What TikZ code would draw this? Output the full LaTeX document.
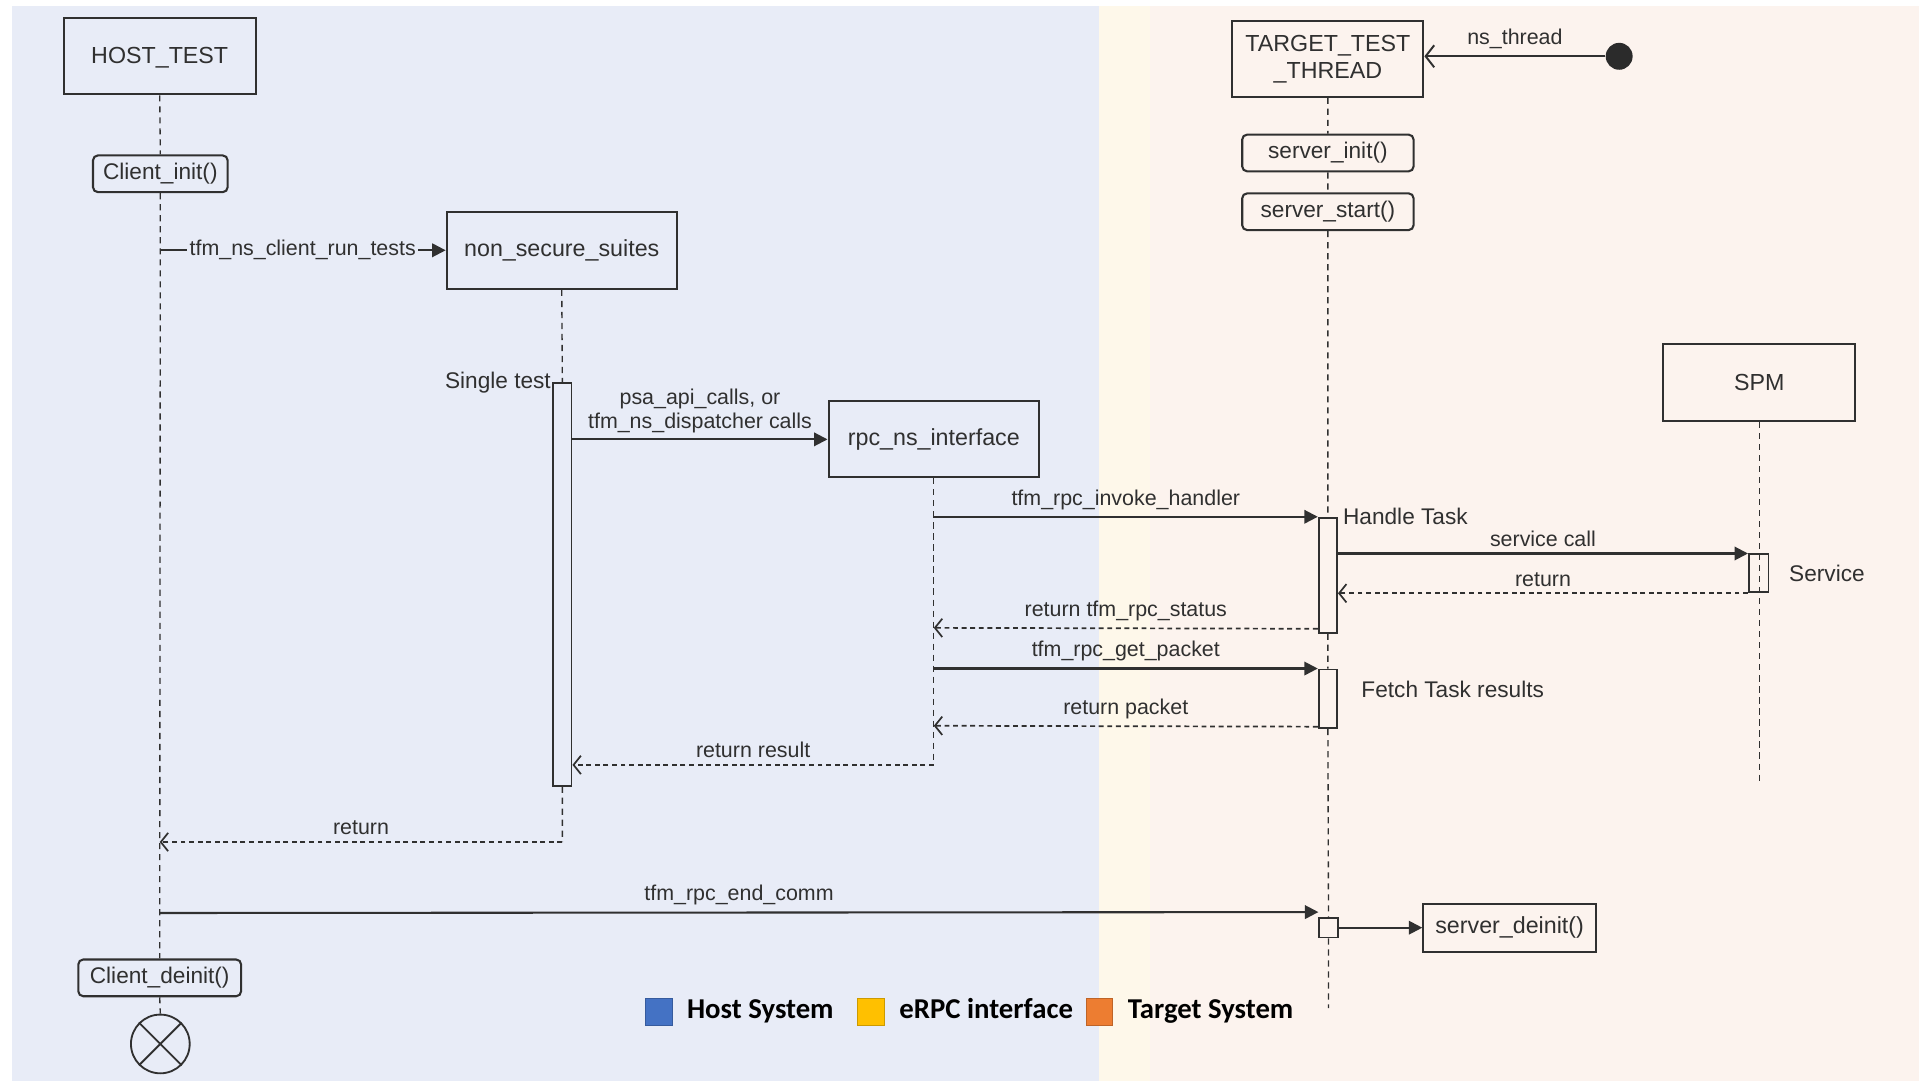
\documentclass[tikz,border=0pt]{standalone}
\usepackage{fontspec}
\setmainfont{Liberation Sans}
\newfontfamily\legendfont{Carlito}
\usetikzlibrary{arrows.meta}
\usetikzlibrary{positioning}

\definecolor{hostbg}{HTML}{E8ECF7}
\definecolor{rpcbg}{HTML}{FEF8EA}
\definecolor{tgtbg}{HTML}{FCF3EE}
\definecolor{ink}{HTML}{303030}
\definecolor{hostkey}{HTML}{4472C4}
\definecolor{rpckey}{HTML}{FFC000}
\definecolor{tgtkey}{HTML}{ED7D31}

\tikzset{
  objbox/.style={draw=ink, line width=1.7pt, text=ink, font=\fontsize{19}{22}\selectfont, inner sep=0pt},
  callbox/.style={draw=ink, line width=1.7pt, rounded corners=4pt, text=ink, font=\fontsize{18.5}{22}\selectfont, inner sep=0pt},
  actbar/.style={draw=ink, line width=1.5pt, minimum width=15pt, inner sep=0pt},
  lifeline/.style={draw=ink, line width=1.1pt, dash pattern=on 5pt off 4pt},
  msg/.style={draw=ink, line width=1.7pt, -{Triangle[length=11pt,width=11pt]}},
  retmsg/.style={draw=ink, line width=1.4pt, dash pattern=on 4pt off 3pt, -{Straight Barb[length=6pt,width=15pt]}},
  lbl/.style={text=ink, font=\fontsize{17.5}{20}\selectfont, inner sep=2pt},
  legkey/.style={draw=#1!80!black, fill=#1, minimum size=22pt, inner sep=0pt},
  keytxt/.style={font=\legendfont\bfseries\fontsize{23.5}{26}\selectfont, inner sep=0pt, text height=15pt, text depth=4pt}
}

\begin{document}
\begin{tikzpicture}[x=1pt, y=-1pt]
  \useasboundingbox (0,0) rectangle (1568,883);
  % the three systems
  \fill[hostbg] (10,5) rectangle (898,883);
  \fill[rpcbg] (898,5) rectangle (940,883);
  \fill[tgtbg] (940,5) rectangle (1568,883);

  % host side
  \node[objbox, minimum width=157, minimum height=62, text depth=1pt] (host) at (130.5,46) {HOST\_TEST};
  \node[callbox, minimum width=110, minimum height=30] (cinit) at (131,142) {Client\_init()};
  \node[callbox, minimum width=133, minimum height=30] (cdeinit) at (130.5,799) {Client\_deinit()};
  \node[circle, draw=ink, line width=1.5pt, minimum size=48, inner sep=0pt] (destroy) at (131,853) {};
  \draw[ink, line width=1.5pt] (destroy.north west) -- (destroy.south east) (destroy.north east) -- (destroy.south west);
  \node[objbox, minimum width=188, minimum height=63] (suites) at (459,204.5) {non\_secure\_suites};
  \node[actbar, minimum height=329] (single) at (459.5,477.5) {};
  \node[lbl, anchor=east, inner sep=1pt, font=\fontsize{18.5}{22}\selectfont] (singlelbl) at (single.north west) {Single test};
  \node[objbox, minimum width=172, minimum height=62] (rpcif) at (763,359) {rpc\_ns\_interface};

  % target side
  \node[objbox, align=center, minimum width=156, minimum height=62] (target) at (1085,48) {TARGET\_TEST\\\_THREAD};
  \node[circle, fill=ink!90!black, minimum size=22, inner sep=0pt] (start) at (1323,46) {};
  \node[callbox, minimum width=140, minimum height=30] (sinit) at (1085,125) {server\_init()};
  \node[callbox, minimum width=140, minimum height=30] (sstart) at (1085,173) {server\_start()};
  \node[actbar, minimum height=94] (handle) at (1085,470) {};
  \node[lbl, anchor=west, inner sep=1pt, font=\fontsize{18.5}{22}\selectfont] (handlelbl) at ([xshift=3pt]handle.north east) {Handle Task};
  \node[actbar, minimum height=48] (fetch) at (1085,571) {};
  \node[lbl, anchor=west, font=\fontsize{18.5}{22}\selectfont] (fetchlbl) at ([xshift=17pt,yshift=8pt]fetch.east) {Fetch Task results};
  \node[actbar, minimum height=16] (endbar) at (1085.5,758) {};
  \node[objbox, minimum width=141, minimum height=39] (sdeinit) at (1233.5,758) {server\_deinit()};
  \node[objbox, minimum width=157, minimum height=63] (spm) at (1437.5,312.5) {SPM};
  \node[actbar, minimum width=16, minimum height=31] (svc) at (1437,468.5) {};
  \node[lbl, anchor=west, font=\fontsize{18.5}{22}\selectfont] (svclbl) at ([xshift=14pt]svc.east) {Service};

  \coordinate (rr) at (763,625);
  \coordinate (ret) at (459.5,688);

  % lifelines
  \draw[lifeline] (host.south) -- (cinit.north) (cinit.south) -- (cdeinit.north) (cdeinit.south) -- (destroy.north);
  \draw[lifeline] (suites.south) -- (single.north) (single.south) -- (ret);
  \draw[lifeline] (rpcif.south) -- (rr);
  \draw[lifeline] (target.south) -- (sinit.north) (sinit.south) -- (sstart.north) (sstart.south) -- (handle.north)
    (handle.south) -- (fetch.north) (fetch.south) -- (endbar.north) (endbar.south) -- ++(0,57);
  \draw[lifeline] (spm.south) -- ++(0,296);

  % messages
  \draw[ink, line width=1.6pt, -{Straight Barb[length=7pt,width=18pt]}] (start) -- node[lbl, above=3pt] {ns\_thread} (target.east |- start);
  \draw[msg] (host.south |- suites.west) -- node[lbl, fill=hostbg] {tfm\_ns\_client\_run\_tests} (suites.west);
  \draw[msg] (single.east |- rpcif.west) -- node[lbl, above=2pt, align=center] {psa\_api\_calls, or\\tfm\_ns\_dispatcher calls} (rpcif.west);
  \draw[msg] (rpcif.south |- handle.north west) -- node[lbl, above=3pt] {tfm\_rpc\_invoke\_handler} (handle.north west);
  \draw[msg] ([yshift=-30pt]handle.north east) -- node[lbl, above=3pt] {service call} (svc.north west);
  \draw[retmsg] (svc.south west) -- node[lbl, above=3pt] {return} (handle.east |- svc.south west);
  \draw[retmsg] ([yshift=4pt]handle.south west) -- node[lbl, above=3pt] {return tfm\_rpc\_status} (rpcif.south |- 0,513);
  \draw[msg] (rpcif.south |- fetch.north west) -- node[lbl, above=3pt] {tfm\_rpc\_get\_packet} (fetch.north west);
  \draw[retmsg] ([yshift=2pt]fetch.south west) -- node[lbl, above=3pt] {return packet} (rpcif.south |- 0,593);
  \draw[retmsg] (rr) -- node[lbl, above=3pt] {return result} (single.east |- rr);
  \draw[retmsg] (ret) -- node[lbl, above=3pt] {return} (host.south |- ret);
  \draw[msg] (host.south |- 0,746) -- node[lbl, above=3pt] {tfm\_rpc\_end\_comm} ([yshift=4pt]endbar.north west);
  \draw[msg] (endbar.east) -- (sdeinit.west);

  % legend
  \node[legkey=hostkey] (khost) at (538,827) {};
  \node[keytxt, right=12pt of khost] (thost) {Host System};
  \node[legkey=rpckey, right=19pt of thost] (krpc) {};
  \node[keytxt, right=12pt of krpc] (trpc) {eRPC interface};
  \node[legkey=tgtkey, right=10pt of trpc] (ktgt) {};
  \node[keytxt, right=12pt of ktgt] (ttgt) {Target System};
\end{tikzpicture}
\end{document}
